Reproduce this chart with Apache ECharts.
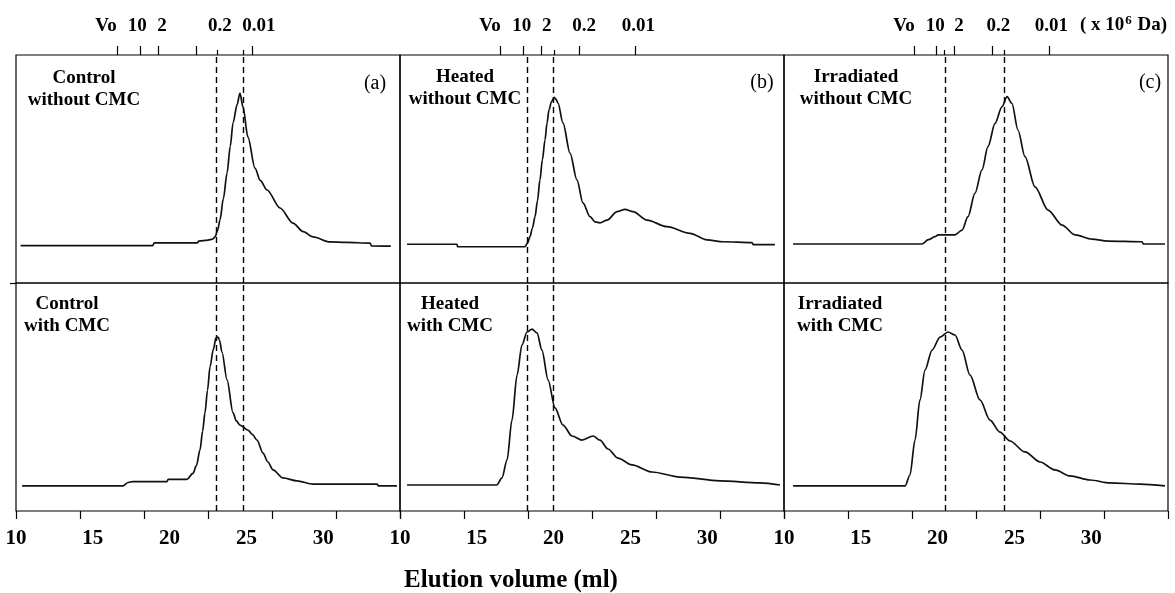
<!DOCTYPE html>
<html>
<head>
<meta charset="utf-8">
<script src="https://cdn.jsdelivr.net/npm/echarts@6/dist/echarts.min.js"></script>
<style>html,body{margin:0;padding:0;background:#fff}#chart{width:1175px;height:593px}</style>
</head>
<body>
<div id="chart"></div>
<script>
// ---------- data ----------
const xMin = 10, xMax = 35;
const bottomLabelVals = [10, 15, 20, 25, 30];
const bottomTickVals = [10, 14.17, 18.33, 22.5, 26.67, 30.83, 35];
const mwNames = ['Vo', '10', '2', '0.2', '0.01'];
const mwLabelPos = [
  [15.86, 17.9, 19.5, 23.28, 25.82],
  [15.86, 17.92, 19.55, 21.98, 25.52],
  [17.81, 19.85, 21.4, 23.95, 27.4]
];
const mwMajorTicks = [
  [16.58, 18.07, 19.24, 21.72, 25.36],
  [16.55, 18.02, 19.22, 21.67, 25.32],
  [18.46, 19.9, 21.09, 23.59, 27.25]
];
const mwMinorTicks = [[23.09, 24.78], [20.03], [20.44, 24.32]];
const dashPos = [[23.02, 24.78], [18.27, 19.96], [20.48, 24.32]];
const panelTags = ['(a)', '(b)', '(c)'];
const panelNames = [
  ['Control', 'without CMC'], ['Heated', 'without CMC'], ['Irradiated', 'without CMC'],
  ['Control', 'with CMC'], ['Heated', 'with CMC'], ['Irradiated', 'with CMC']
];

const ctrlNoCMC = [[10.3,16.4],[18.9,16.4],[19.0,17.6],[21.8,17.6],[21.9,18.4],[22.5,18.8],[22.8,19.2],[22.96,20.2],[23.12,23],[23.28,27.6],[23.5,37],[23.74,48.2],[23.95,60],[24.13,70.2],[24.39,78.1],[24.58,83.3],[24.78,77.2],[25.1,64],[25.56,50.4],[25.9,45],[26.34,40.8],[27.19,32.9],[28.03,26.3],[28.7,22.5],[29.34,20.2],[30.44,18.0],[31.5,17.8],[33.05,17.5],[33.15,16.3],[34.4,16.2]];
const heatNoCMC = [[10.46,17],[13.71,17],[13.75,15.9],[18.14,15.9],[18.3,17.5],[18.46,20.3],[18.62,24],[18.79,29.1],[18.95,36],[19.11,45.2],[19.27,54],[19.44,62.7],[19.57,70],[19.7,75.9],[19.86,79.5],[20.03,81.4],[20.16,80.5],[20.29,78.9],[20.61,70.2],[21.07,57],[21.52,45.2],[21.91,35.1],[22.37,29.1],[22.7,26.8],[23.02,26.4],[23.48,27.6],[24.13,31.3],[24.65,32.3],[25.17,31.3],[26.08,27.6],[27.38,24.7],[28.88,21.8],[29.99,18.9],[31.03,18.1],[32.92,17.7],[33.0,16.8],[34.41,16.8]];
const irrNoCMC = [[10.59,17.1],[18.98,17.1],[19.4,19],[19.83,20.3],[20.03,21.1],[21.13,21.1],[21.59,23.2],[21.98,29.1],[22.43,39.3],[22.89,49.6],[23.28,59.8],[23.74,70],[24.19,77.3],[24.52,81.7],[24.84,78.8],[25.23,67.1],[25.69,55.4],[26.34,42.2],[27.19,32],[28.1,25.4],[28.95,21.1],[30.05,19.2],[31.09,18.4],[33.31,18.1],[33.4,17.1],[34.8,17.1]];
const ctrlCMC = [[10.4,11.0],[16.97,11.0],[17.3,12.5],[17.6,12.9],[19.83,12.9],[19.9,13.9],[21.13,13.9],[21.52,16.5],[21.75,20],[21.98,26.8],[22.15,35],[22.3,43],[22.47,53],[22.63,63.2],[22.85,71],[23.02,75.9],[23.15,76.3],[23.25,75],[23.41,69.7],[23.74,57.5],[24.13,43],[24.35,39.5],[24.58,37.7],[25.1,35.5],[25.4,33.5],[25.69,31.1],[26.08,25.4],[26.4,21.5],[26.73,18],[27.38,14.5],[28.29,13.2],[29.34,11.8],[33.5,11.8],[33.6,11.0],[34.8,11.0]];
const heatCMC = [[10.46,11.4],[16.3,11.4],[16.64,14.5],[16.97,22.4],[17.29,39.9],[17.62,59.6],[17.94,72.8],[18.27,78.5],[18.59,79.8],[18.92,78.1],[19.24,70.6],[19.64,57.5],[20.09,45.2],[20.61,37.7],[21.2,32.9],[21.85,31.1],[22.57,32.9],[23.02,31.1],[23.54,27.2],[24.19,23.2],[25.1,20.2],[26.41,17.1],[28.23,14.9],[30.83,13.2],[33.44,12.3],[34.74,11.4]];
const irrCMC = [[10.59,11.0],[17.88,11.0],[18.2,15.8],[18.53,31.1],[18.85,48.7],[19.18,61.8],[19.64,70.6],[20.16,76.3],[20.68,78.5],[21.13,77.2],[21.59,70.6],[22.11,59.6],[22.76,48.7],[23.41,39.9],[24.06,34.6],[24.71,30.7],[25.69,25.9],[26.67,21.5],[27.64,18],[28.62,15.4],[29.92,13.6],[31.22,12.3],[33.18,11.8],[34.8,11.0]];
const seriesData = [ctrlNoCMC, heatNoCMC, irrNoCMC, ctrlCMC, heatCMC, irrCMC];

// ---------- layout ----------
const FONT = 'Liberation Serif';
const colLeft = [16, 400, 784], colW = 384;
const rowTop = [55, 283], rowH = 228;

const grids = [], xAxes = [], yAxes = [], series = [], graphics = [];
for (let r = 0; r < 2; r++) {
  for (let c = 0; c < 3; c++) {
    const g = r * 3 + c;
    grids.push({left: colLeft[c], top: rowTop[r], width: colW, height: rowH,
      show: true, borderColor: '#000', borderWidth: 1.2, backgroundColor: 'transparent'});
    let mainX;
    if (r === 0) {
      mainX = xAxes.length;
      const labPos = mwLabelPos[c];
      xAxes.push({gridIndex: g, type: 'value', position: 'top', min: xMin, max: xMax,
        axisLine: {show: false, onZero: false}, splitLine: {show: false},
        axisTick: {show: true, customValues: mwMajorTicks[c], length: 9, lineStyle: {color: '#000', width: 1.2}},
        axisLabel: {show: true, customValues: labPos, margin: 19, color: '#000',
          fontFamily: FONT, fontWeight: 'bold', fontSize: 19,
          formatter: function (v) { const i = labPos.findIndex(p => Math.abs(p - v) < 1e-6); return i >= 0 ? mwNames[i] : ''; }}
      });
      xAxes.push({gridIndex: g, type: 'value', position: 'top', min: xMin, max: xMax,
        axisLine: {show: false, onZero: false}, splitLine: {show: false}, axisLabel: {show: false},
        axisTick: {show: true, customValues: mwMinorTicks[c], length: 5, lineStyle: {color: '#000', width: 1.2}}
      });
    } else {
      mainX = xAxes.length;
      xAxes.push({gridIndex: g, type: 'value', position: 'bottom', min: xMin, max: xMax,
        axisLine: {show: false, onZero: false}, splitLine: {show: false},
        axisTick: {show: true, customValues: bottomTickVals, length: 8, lineStyle: {color: '#000', width: 1.2}},
        axisLabel: {show: true, customValues: bottomLabelVals, margin: 17, color: '#000',
          fontFamily: FONT, fontWeight: 'bold', fontSize: 21}
      });
    }
    const showYTick = (g === 3);
    yAxes.push({gridIndex: g, type: 'value', min: 0, max: 100, show: showYTick,
      axisLine: {show: false, onZero: false}, splitLine: {show: false}, axisLabel: {show: false},
      axisTick: {show: showYTick, customValues: [100], length: 6, lineStyle: {color: '#000', width: 1.2}}});
    series.push({type: 'line', xAxisIndex: mainX, yAxisIndex: g, data: seriesData[g],
      showSymbol: false, smooth: 0.3, smoothMonotone: 'x', silent: true,
      lineStyle: {color: '#111', width: 1.7},
      markLine: {symbol: 'none', silent: true, label: {show: false},
        lineStyle: {color: '#000', type: [6, 4], width: 1.4},
        data: dashPos[c].map(v => ({xAxis: v}))}
    });
  }
}

// panel name text
const nameCenters = [[84, 78], [465, 77], [856, 77], [67, 304], [450, 304], [840, 304]];
panelNames.forEach((lines, g) => {
  lines.forEach((t, k) => {
    graphics.push({type: 'text', x: nameCenters[g][0], y: nameCenters[g][1] + k * 22,
      style: {text: t, fill: '#000', font: 'bold 19px "' + FONT + '"', textAlign: 'center', textVerticalAlign: 'middle'}});
  });
});
const tagPos = [[375, 84], [762, 83], [1150, 83]];
panelTags.forEach((t, c) => {
  graphics.push({type: 'text', x: tagPos[c][0], y: tagPos[c][1],
    style: {text: t, fill: '#000', font: '20px "' + FONT + '"', textAlign: 'center', textVerticalAlign: 'middle'}});
});
graphics.push({type: 'text', x: 511, y: 581,
  style: {text: 'Elution volume (ml)', fill: '#000', font: 'bold 25px "' + FONT + '"', textAlign: 'center', textVerticalAlign: 'middle'}});
graphics.push({type: 'text', x: 1080, y: 25,
  style: {text: '{a|( x 10}{s|6}{a| Da)}', fill: '#000', textVerticalAlign: 'middle',
    rich: {a: {fontFamily: FONT, fontWeight: 'bold', fontSize: 19, fill: '#000'},
           s: {fontFamily: FONT, fontWeight: 'bold', fontSize: 13, fill: '#000', verticalAlign: 'top', padding: [0, 1, 8, 1]}}}});

const chart = echarts.init(document.getElementById('chart'), null, {renderer: 'canvas'});
chart.setOption({
  animation: false,
  backgroundColor: '#fff',
  grid: grids, xAxis: xAxes, yAxis: yAxes, series: series, graphic: graphics
});
</script>
</body>
</html>
